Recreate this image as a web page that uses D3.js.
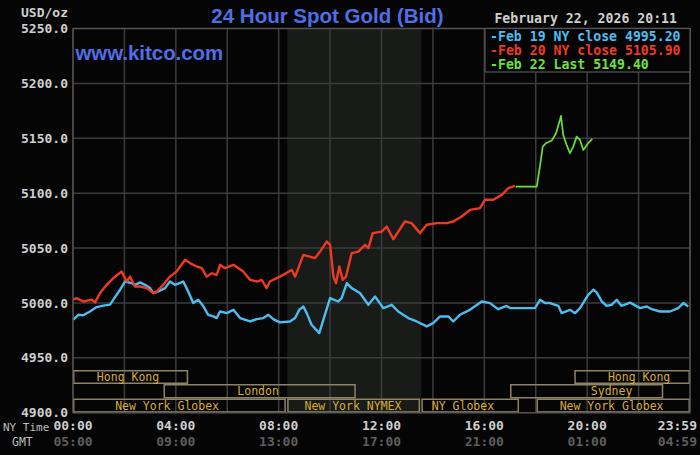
<!DOCTYPE html>
<html><head><meta charset="utf-8">
<script src="https://cdn.jsdelivr.net/npm/d3@7/dist/d3.min.js"></script>
<style>
html,body{margin:0;padding:0;background:#050505;}
svg{display:block;}
.mono{font-family:"DejaVu Sans Mono",monospace;font-weight:bold;}
</style></head><body>
<svg id="c" width="700" height="455"></svg>
<script>
// ---- data ----
const blueT = [0.01,0.21,0.40,0.66,0.92,1.18,1.44,1.57,1.83,2.02,2.28,2.41,2.61,2.80,3.00,3.12,3.32,3.58,3.77,3.97,4.29,4.48,4.68,4.87,5.07,5.26,5.46,5.59,5.72,5.98,6.24,6.50,6.89,7.15,7.40,7.60,7.79,8.05,8.44,8.64,8.80,8.96,9.09,9.28,9.58,9.74,10.00,10.32,10.45,10.65,10.84,11.16,11.49,11.75,12.07,12.40,12.65,13.04,13.37,13.76,14.01,14.28,14.60,14.79,15.05,15.44,15.90,16.22,16.54,16.87,17.00,17.97,18.17,18.36,18.55,18.88,19.01,19.33,19.53,19.72,20.04,20.24,20.37,20.57,20.76,20.95,21.15,21.34,21.67,22.06,22.32,22.51,22.83,23.22,23.54,23.74,23.93];
const blueV = [4984.7,4989.2,4988.7,4992.2,4996.2,4997.6,4998.5,5003.0,5012.0,5019.5,5018.0,5016.5,5018.7,5016.5,5013.5,5009.0,5010.5,5013.5,5019.5,5016.5,5019.5,5010.5,4999.9,5003.0,4996.9,4989.2,4987.7,4986.2,4992.2,4990.7,4993.7,4986.2,4983.1,4985.3,4986.2,4989.2,4985.3,4982.3,4983.1,4986.2,4993.7,4996.7,4990.7,4980.1,4972.5,4984.7,5004.4,5001.3,5004.4,5018.0,5013.5,5009.0,4998.3,5005.9,4995.3,4998.3,4992.2,4986.2,4983.1,4978.6,4981.6,4987.7,4987.7,4983.1,4989.2,4993.7,5001.3,4999.8,4994.3,4997.3,4995.3,4995.3,5002.9,4999.9,4999.9,4997.3,4990.7,4993.7,4990.7,4995.3,5007.4,5012.0,5009.6,5001.3,4997.3,4998.3,5002.9,4997.3,5000.3,4995.3,4996.8,4994.3,4992.2,4992.2,4995.3,4999.9,4996.8];
const redT = [0.01,0.14,0.40,0.73,0.86,1.05,1.31,1.57,1.89,2.09,2.22,2.41,2.61,2.87,3.12,3.26,3.51,3.77,4.03,4.36,4.55,4.81,5.01,5.20,5.40,5.59,5.72,5.91,6.24,6.62,6.89,7.15,7.34,7.53,7.66,8.05,8.51,8.64,8.96,9.41,9.61,9.87,10.00,10.13,10.23,10.36,10.49,10.62,10.84,11.10,11.36,11.49,11.66,12.01,12.20,12.46,12.91,13.17,13.50,13.76,14.15,14.54,14.79,15.12,15.44,15.83,16.03,16.35,16.68,16.93,17.19];
const redV = [5003.0,5004.4,5001.3,5003.0,5000.5,5009.0,5016.5,5022.6,5028.6,5019.5,5024.0,5015.0,5015.0,5013.5,5009.0,5010.5,5016.5,5024.0,5028.6,5039.3,5036.3,5033.2,5031.7,5024.0,5027.0,5025.5,5034.7,5031.7,5034.7,5028.6,5021.0,5019.5,5021.0,5013.5,5019.5,5024.0,5030.0,5024.0,5043.8,5040.8,5046.8,5055.9,5052.9,5024.0,5018.0,5033.2,5021.0,5024.0,5045.4,5046.8,5052.9,5050.0,5063.6,5065.0,5069.6,5058.0,5074.2,5072.7,5063.6,5071.2,5072.7,5072.7,5074.2,5078.7,5084.8,5086.4,5094.0,5094.0,5098.4,5104.5,5106.6];
const greenT = [17.22,18.04,18.10,18.19,18.27,18.40,18.62,18.79,18.94,18.98,19.07,19.20,19.33,19.46,19.59,19.72,19.85,20.04,20.20];
const greenV = [5106.0,5106.0,5115.0,5128.7,5142.4,5145.5,5147.9,5154.6,5166.7,5170.4,5153.0,5144.0,5136.4,5142.4,5151.5,5148.5,5139.4,5145.5,5149.4];

const yTicks = [4900,4950,5000,5050,5100,5150,5200,5250];
const xLabelHours = [0,4,8,12,16,20,23.983];
const nyLabels = ["00:00","04:00","08:00","12:00","16:00","20:00","23:59"];
const gmtLabels = ["05:00","09:00","13:00","17:00","21:00","01:00","04:59"];

const legendLabels = ["Feb 19 NY close 4995.20","Feb 20 NY close 5105.90","Feb 22 Last 5149.40"];
const seriesColors = ["#4cbdf0","#ee3a22","#6ee03a"];
const seriesWidths = [2.4,2.4,1.7];

// sessions: name, row, start hour, end hour, label hour
const sessNames = ["Hong Kong","London","New York Globex","New York NYMEX","NY Globex","Sydney","Hong Kong","New York Globex"];
const sessRow   = [0,1,2,2,2,1,0,2];
const sessStart = [0,3.52,0,8.33,13.55,17.0,19.5,18.03];
const sessEnd   = [4.48,11.0,8.28,13.5,17.35,22.96,24,24];
const sessLabel = [2.14,7.2,3.66,10.89,15.17,20.95,22.02,20.95];
const comexStart = 8.33, comexEnd = 13.55;

// ---- chart ----
const svg = d3.select("#c");
const L=73,R=690,T=28.5,B=412.7;
const x = d3.scaleLinear().domain([0,24]).range([L,R]);
const y = d3.scaleLinear().domain([4900,5250]).range([B,T]);

svg.append("rect").attr("width",700).attr("height",455).attr("fill","#050505");
// shaded comex
svg.append("rect").attr("x",x(comexStart)).attr("y",T).attr("width",x(comexEnd)-x(comexStart)).attr("height",B-T).attr("fill","#181b18");

// grid
const g = svg.append("g");
g.selectAll(".vg").data(d3.range(0,25,2)).join("line")
 .attr("x1",d=>x(d)).attr("x2",d=>x(d)).attr("y1",T).attr("y2",B)
 .attr("stroke","#3c3c3c").attr("stroke-width",1.5);
g.selectAll(".hg").data(yTicks).join("line")
 .attr("x1",L).attr("x2",R).attr("y1",d=>y(d)).attr("y2",d=>y(d))
 .attr("stroke","#3c3c3c").attr("stroke-width",1.5);

// y axis labels
const yAxis = d3.axisLeft(y).tickValues(yTicks).tickFormat(d3.format(".1f")).tickSize(0).tickPadding(5);
const ya = svg.append("g").attr("transform",`translate(${L},0)`).call(yAxis);
ya.select(".domain").remove();
ya.selectAll("text").attr("class","mono").attr("fill","#cfcfcf").style("font-size","13px").attr("dy","0.32em");
svg.append("text").attr("class","mono").attr("x",68).attr("y",17).attr("text-anchor","end")
 .attr("fill","#cfcfcf").style("font-size","13px").text("USD/oz");

// sessions
const sg = svg.append("g");
const rowY = [370,384,398.5], rowH=[14,14.5,14.2];
sessNames.forEach((n,i)=>{
  const r=sessRow[i];
  sg.append("rect").attr("x",x(sessStart[i])+0.75).attr("y",rowY[r]+0.75)
    .attr("width",x(sessEnd[i])-x(sessStart[i])-1.5).attr("height",rowH[r]-1.5)
    .attr("fill","none").attr("stroke","#8c8462").attr("stroke-width",1.5);
  sg.append("text").attr("class","mono").attr("x",x(sessLabel[i])).attr("y",rowY[r]+rowH[r]/2+4)
    .attr("text-anchor","middle").attr("fill","#d9ad33").style("font-size","11.5px").style("font-weight","normal").text(n);
});

// lines
const line = d3.line().x(d=>x(d[0])).y(d=>y(d[1]));
const series = [[blueT,blueV],[redT,redV],[greenT,greenV]];
series.forEach((s,i)=>{
  svg.append("path").datum(s[0].map((t,j)=>[t,s[1][j]])).attr("d",line)
   .attr("fill","none").attr("stroke",seriesColors[i]).attr("stroke-width",seriesWidths[i]).attr("stroke-linejoin","round");
});

// plot border
svg.append("rect").attr("x",L).attr("y",T).attr("width",R-L).attr("height",B-T)
 .attr("fill","none").attr("stroke","#555").attr("stroke-width",1.2);

// x labels
xLabelHours.forEach((h,i)=>{
  const last = i===xLabelHours.length-1;
  const xx = last ? 697 : x(h);
  const anchor = last ? "end" : "middle";
  svg.append("text").attr("class","mono").attr("x",xx).attr("y",430).attr("text-anchor",anchor)
    .attr("fill","#cfcfcf").style("font-size","13px").text(nyLabels[i]);
  svg.append("text").attr("class","mono").attr("x",xx).attr("y",446).attr("text-anchor",anchor)
    .attr("fill","#5e5e5e").style("font-size","13px").text(gmtLabels[i]);
});
svg.append("text").attr("class","mono").attr("x",3).attr("y",431).attr("fill","#bdbdbd")
 .style("font-size","11px").style("font-weight","normal").text("NY Time");
svg.append("text").attr("class","mono").attr("x",12).attr("y",446).attr("fill","#bdbdbd")
 .style("font-size","11.5px").style("font-weight","normal").text("GMT");

// legend
svg.append("rect").attr("x",485).attr("y",T).attr("width",R-485).attr("height",43.5)
 .attr("fill","#050505").attr("stroke","#555").attr("stroke-width",1.2);
legendLabels.forEach((t,i)=>{
  svg.append("text").attr("class","mono").attr("x",490).attr("y",41+i*14.2)
   .attr("fill",seriesColors[i]).style("font-size","13.2px").text("-"+t);
});
svg.append("text").attr("class","mono").attr("x",677).attr("y",23).attr("text-anchor","end")
 .attr("fill","#cfcfcf").style("font-size","13.2px").text("February 22, 2026 20:11");

// title & url
svg.append("text").attr("x",327.5).attr("y",23).attr("text-anchor","middle")
 .attr("fill","#4f6fe8").style("font-family","Liberation Sans, Arial, sans-serif").style("font-weight","bold")
 .style("font-size","20.5px").text("24 Hour Spot Gold (Bid)");
svg.append("text").attr("x",75.5).attr("y",60)
 .attr("fill","#4f6fe8").style("font-family","Liberation Sans, Arial, sans-serif").style("font-weight","bold")
 .style("font-size","20.4px").text("www.kitco.com");
</script></body></html>
